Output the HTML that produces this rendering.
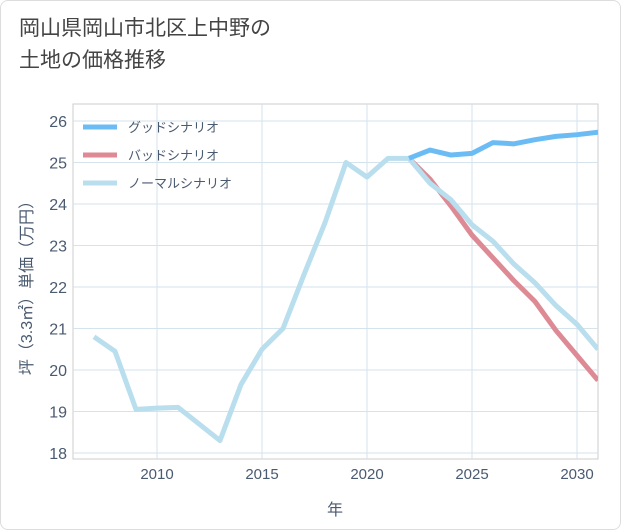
<!DOCTYPE html>
<html><head><meta charset="utf-8"><style>
body{margin:0;background:#fff;font-family:"Liberation Sans","Noto Sans CJK JP",sans-serif}
#c{position:relative;width:621px;height:530px;box-sizing:border-box;border:1px solid #ddd;border-radius:8px;overflow:hidden}
h1{position:absolute;left:18px;top:12px;margin:0;font-weight:normal;font-size:21px;line-height:32px;color:#444}
</style></head><body>
<div id="c">
<h1>岡山県岡山市北区上中野の<br>土地の価格推移</h1>
<svg id="s" width="621" height="530" style="position:absolute;left:0;top:0"></svg>
</div>
<script>
const years=[2007,2008,2009,2010,2011,2012,2013,2014,2015,2016,2017,2018,2019,2020,2021,2022,2023,2024,2025,2026,2027,2028,2029,2030,2031];
const normal=[20.8,20.45,19.05,19.08,19.1,18.7,18.3,19.65,20.5,21.0,22.3,23.55,25.0,24.65,25.1,25.1,24.5,24.1,23.5,23.1,22.55,22.1,21.55,21.1,20.5];
const goodYears=[2022,2023,2024,2025,2026,2027,2028,2029,2030,2031];
const good=[25.1,25.3,25.18,25.22,25.48,25.45,25.55,25.63,25.67,25.73];
const bad=[25.1,24.6,23.95,23.25,22.7,22.15,21.65,20.95,20.35,19.75];
const xTicks=[2010,2015,2020,2025,2030];
const yTicks=[18,19,20,21,22,23,24,25,26];
const L=72,R=597,T=103,B=458;
const X=y=>156+(y-2010)*21;
const Y=v=>452-(v-18)*41.5;
const s=document.getElementById('s');const NS='http://www.w3.org/2000/svg';
function mk(t,a,p){const e=document.createElementNS(NS,t);for(const k in a)e.setAttribute(k,a[k]);(p||s).appendChild(e);return e;}
const bg=mk('rect',{x:L,y:T,width:R-L,height:B-T,fill:'#fff',stroke:'#ccc'});


xTicks.forEach(t=>{const g=mk('line',{x1:X(t),x2:X(t),y1:T,y2:B,stroke:'#d4e3ec'});


const tx=mk('text',{x:X(t),y:478,'text-anchor':'middle','font-size':15,fill:'#4a5a70'});tx.textContent=t;

});
yTicks.forEach(t=>{const g=mk('line',{x1:L,x2:R,y1:Y(t),y2:Y(t),stroke:'#d4e3ec'});


const tx=mk('text',{x:66,y:Y(t)+6,'text-anchor':'end','font-size':16,fill:'#4a5a70'});tx.textContent=t;

});
const xt=mk('text',{x:334,y:514,'text-anchor':'middle','font-size':16,fill:'#4a5a70'});xt.textContent='年';


const yt=mk('text',{x:0,y:0,'text-anchor':'middle','font-size':16,fill:'#4a5a70',transform:'translate(31,283) rotate(-90)'});yt.textContent='坪（3.3㎡）単価（万円）';


const cp=mk('clipPath',{id:'cl'});mk('rect',{x:L,y:T,width:R-L,height:B-T},cp);
function line(xs,vs,col,name){const p=mk('polyline',{points:xs.map((y,i)=>X(y)+','+Y(vs[i])).join(' '),fill:'none',stroke:col,'stroke-width':5,'stroke-linejoin':'round','clip-path':'url(#cl)'});

}
line(goodYears,bad,'#dd8a95','bad-scenario-line');
line(years,normal,'#b9deed','normal-scenario-line');
line(goodYears,good,'#6bbcf5','good-scenario-line');
[['グッドシナリオ','#6bbcf5',126],['バッドシナリオ','#dd8a95',154],['ノーマルシナリオ','#b9deed',182]].forEach(([n,c,y])=>{
const l=mk('line',{x1:82,x2:116,y1:y,y2:y,stroke:c,'stroke-width':5});


const t=mk('text',{x:127,y:y+5,'font-size':13,fill:'#4a5a70'});t.textContent=n;

});
</script>
</body></html>
